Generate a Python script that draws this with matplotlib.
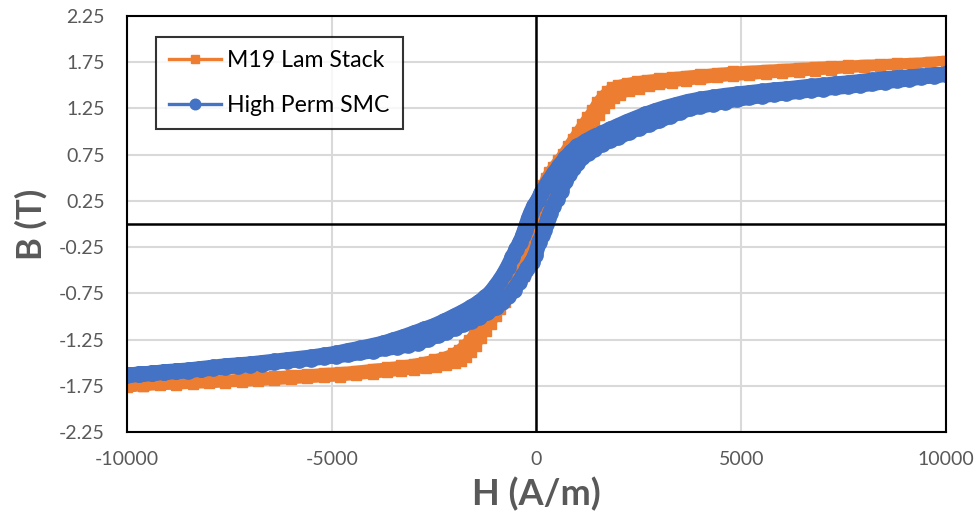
import matplotlib
matplotlib.use("Agg")
import matplotlib.pyplot as plt
from matplotlib.lines import Line2D

# ---------------- data ----------------
# M19 Lam Stack : descending branch (H from +10000 to -10000)
m19_desc_h = [10000, 9600, 9200, 8800, 8400, 8000, 7600, 7200, 6800, 6400,
              6000, 5600, 5200, 4800, 4400, 4000, 3650, 3300, 3000, 2700,
              2450, 2200, 2000, 1850, 1720, 1600, 1480, 1360, 1240, 1120,
              1000, 880, 760, 640, 520, 400, 300, 220, 150, 80,
              20, -40, -110,
              -170, -230, -300, -370, -450, -560, -680, -800, -920, -1040,
              -1160, -1280, -1400, -1520, -1640, -1770, -1900, -2050, -2250, -2500,
              -2750, -3000, -3300, -3650, -4000, -4400, -4800, -5200, -5600, -6000,
              -6400, -6800, -7200, -7600, -8000, -8400, -8800, -9200, -9600, -10000]
m19_desc_b = [1.765, 1.755, 1.745, 1.74, 1.73, 1.725, 1.715, 1.71, 1.70, 1.69,
              1.68, 1.67, 1.66, 1.65, 1.635, 1.62, 1.605, 1.59, 1.575, 1.56,
              1.545, 1.525, 1.505, 1.48, 1.435, 1.385, 1.32, 1.23, 1.155, 1.08,
              1.00, 0.92, 0.84, 0.76, 0.69, 0.62, 0.56, 0.50, 0.42, 0.31,
              0.20, 0.10, 0.0,
              -0.10, -0.20, -0.32, -0.43, -0.51, -0.59, -0.66, -0.73, -0.80, -0.87,
              -0.95, -1.03, -1.11, -1.18, -1.25, -1.31, -1.36, -1.40, -1.435, -1.465,
              -1.49, -1.51, -1.53, -1.55, -1.565, -1.585, -1.60, -1.61, -1.625, -1.635,
              -1.645, -1.66, -1.67, -1.685, -1.695, -1.71, -1.72, -1.735, -1.75, -1.765]
# M19 Lam Stack : ascending branch (H from -10000 to +10000)
m19_asc_h = [-9600, -9200, -8800, -8400, -8000, -7600, -7200, -6800, -6400, -6000,
             -5600, -5200, -4800, -4400, -4000, -3650, -3300, -3000, -2700, -2450,
             -2200, -2000, -1850, -1720, -1600, -1480, -1360, -1240, -1120, -1000,
             -880, -760, -640, -520, -400, -300, -220, -150, -80, -20,
             40, 110,
             170, 230, 300, 370, 450, 560, 680, 800, 920, 1040,
             1160, 1280, 1400, 1520, 1640, 1770, 1900, 2050, 2250, 2500,
             2750, 3000, 3300, 3650, 4000, 4400, 4800, 5200, 5600, 6000,
             6400, 6800, 7200, 7600, 8000, 8400, 8800, 9200, 9600, 10000]
m19_asc_b = [-1.755, -1.745, -1.74, -1.73, -1.725, -1.715, -1.71, -1.70, -1.69, -1.68,
             -1.67, -1.66, -1.65, -1.635, -1.62, -1.605, -1.59, -1.575, -1.56, -1.545,
             -1.525, -1.505, -1.48, -1.435, -1.385, -1.32, -1.23, -1.155, -1.08, -1.00,
             -0.92, -0.84, -0.76, -0.69, -0.62, -0.56, -0.50, -0.42, -0.31, -0.20,
             -0.10, 0.0,
             0.10, 0.20, 0.32, 0.43, 0.51, 0.59, 0.66, 0.73, 0.80, 0.87,
             0.95, 1.03, 1.11, 1.18, 1.25, 1.31, 1.36, 1.40, 1.435, 1.465,
             1.49, 1.51, 1.53, 1.55, 1.565, 1.585, 1.60, 1.61, 1.625, 1.635,
             1.645, 1.66, 1.67, 1.685, 1.695, 1.71, 1.72, 1.735, 1.75, 1.765]

# High Perm SMC : descending branch
smc_desc_h = [10000, 9700, 9400, 9100, 8800, 8500, 8200, 7900, 7600, 7300,
              7000, 6700, 6400, 6100, 5800, 5500, 5200, 4900, 4600, 4300,
              4000, 3700, 3400, 3150, 2900, 2650, 2400, 2200, 2000, 1800,
              1600, 1400, 1200, 1000, 850, 700, 560, 430, 320, 220,
              120, 30, -70, -140, -195, -240,
              -285, -330, -395, -490, -590, -700, -800, -900, -1000, -1120,
              -1250, -1400, -1600, -1800, -2000, -2250, -2500, -2750, -3000, -3250,
              -3500, -3750, -4000, -4300, -4600, -4900, -5200, -5500, -5800, -6100,
              -6400, -6700, -7000, -7300, -7600, -7900, -8200, -8500, -8800, -9100,
              -9400, -9700, -10000]
smc_desc_b = [1.62, 1.61, 1.60, 1.59, 1.58, 1.57, 1.555, 1.54, 1.525, 1.515,
              1.50, 1.49, 1.475, 1.46, 1.45, 1.435, 1.42, 1.405, 1.39, 1.37,
              1.35, 1.325, 1.29, 1.26, 1.225, 1.185, 1.14, 1.105, 1.065, 1.025,
              0.985, 0.945, 0.895, 0.84, 0.78, 0.71, 0.63, 0.55, 0.48, 0.41,
              0.34, 0.26, 0.19, 0.12, 0.06, 0.0,
              -0.06, -0.12, -0.19, -0.27, -0.36, -0.46, -0.54, -0.61, -0.67, -0.74,
              -0.79, -0.845, -0.90, -0.95, -0.995, -1.05, -1.10, -1.14, -1.18, -1.22,
              -1.255, -1.29, -1.315, -1.345, -1.37, -1.40, -1.42, -1.44, -1.455, -1.47,
              -1.485, -1.50, -1.515, -1.525, -1.535, -1.55, -1.565, -1.58, -1.59, -1.60,
              -1.615, -1.625, -1.635]
# High Perm SMC : ascending branch
smc_asc_h = [-9700, -9400, -9100, -8800, -8500, -8200, -7900, -7600, -7300, -7000,
             -6700, -6400, -6100, -5800, -5500, -5200, -4900, -4600, -4300, -4000,
             -3700, -3400, -3150, -2900, -2650, -2400, -2200, -2000, -1800, -1600,
             -1400, -1200, -1000, -850, -700, -560, -430, -320, -220, -120,
             -30, 70, 140, 195, 240,
             285, 330, 395, 490, 590, 700, 800, 900, 1000, 1120,
             1250, 1400, 1600, 1800, 2000, 2250, 2500, 2750, 3000, 3250,
             3500, 3750, 4000, 4300, 4600, 4900, 5200, 5500, 5800, 6100,
             6400, 6700, 7000, 7300, 7600, 7900, 8200, 8500, 8800, 9100,
             9400, 9700, 10000]
smc_asc_b = [-1.625, -1.615, -1.605, -1.595, -1.585, -1.57, -1.56, -1.545, -1.535, -1.52,
             -1.51, -1.495, -1.48, -1.47, -1.455, -1.44, -1.425, -1.41, -1.39, -1.37,
             -1.345, -1.33, -1.31, -1.285, -1.245, -1.20, -1.165, -1.125, -1.085, -1.045,
             -1.005, -0.955, -0.90, -0.84, -0.78, -0.71, -0.63, -0.55, -0.48, -0.41,
             -0.34, -0.19, -0.12, -0.06, 0.0,
             0.06, 0.12, 0.19, 0.27, 0.36, 0.46, 0.54, 0.61, 0.66, 0.72,
             0.77, 0.815, 0.865, 0.905, 0.94, 0.99, 1.04, 1.08, 1.12, 1.165,
             1.21, 1.25, 1.275, 1.30, 1.325, 1.35, 1.37, 1.39, 1.405, 1.42,
             1.435, 1.45, 1.465, 1.48, 1.49, 1.505, 1.52, 1.54, 1.555, 1.57,
             1.59, 1.605, 1.62]

series_names = ["M19 Lam Stack", "High Perm SMC"]
x_ticks = [-10000, -5000, 0, 5000, 10000]
y_ticks = [-2.25, -1.75, -1.25, -0.75, -0.25, 0.25, 0.75, 1.25, 1.75, 2.25]
x_title = "H (A/m)"
y_title = "B (T)"

# ---------------- style ----------------
ORANGE = "#ED7D31"
BLUE = "#4472C4"
TEXT = "#595959"
GRID = "#D9D9D9"
plt.rcParams["font.family"] = ["Lato", "DejaVu Sans"]

fig = plt.figure(figsize=(9.79, 5.22), dpi=100)
ax = fig.add_axes([127 / 979, 1 - 432 / 522, (946 - 127) / 979, (432 - 16) / 522])

m19_h = m19_desc_h + m19_asc_h
m19_b = m19_desc_b + m19_asc_b
smc_h = smc_desc_h + smc_asc_h
smc_b = smc_desc_b + smc_asc_b

ax.plot(m19_h, m19_b, color=ORANGE, lw=7.0, marker="s", ms=7.6,
        mec=ORANGE, mfc=ORANGE, zorder=3, solid_joinstyle="round",
        solid_capstyle="butt")
ax.plot(smc_h, smc_b, color=BLUE, lw=11.0, marker="o", ms=11.0,
        mec=BLUE, mfc=BLUE, zorder=4, solid_joinstyle="round",
        solid_capstyle="butt")

ax.set_xlim(-10000, 10000)
ax.set_ylim(-2.25, 2.25)
ax.set_xticks(x_ticks)
ax.set_yticks(y_ticks)
ax.set_xticklabels([f"{v}" for v in x_ticks])
ax.set_yticklabels([f"{v:.2f}" for v in y_ticks])
ax.tick_params(axis="both", length=0, labelsize=14, labelcolor=TEXT)
ax.tick_params(axis="x", pad=14)
ax.tick_params(axis="y", pad=16)

ax.grid(True, color=GRID, lw=1.5, zorder=0)
ax.set_axisbelow(True)
for s in ax.spines.values():
    s.set_color("black")
    s.set_linewidth(1.5)
    s.set_zorder(7)

ax.axhline(0, color="black", lw=1.8, zorder=6)
ax.axvline(0, color="black", lw=1.8, zorder=6)

ax.set_xlabel(x_title, fontsize=26, fontweight="bold", color=TEXT, labelpad=6)
ax.set_ylabel(y_title, fontsize=25, fontweight="bold", color=TEXT, labelpad=8)

handles = [Line2D([], [], color=ORANGE, lw=2.4, marker="s", ms=5.6),
           Line2D([], [], color=BLUE, lw=2.4, marker="o", ms=7.6)]
leg = ax.legend(handles, series_names, loc="upper left",
                bbox_to_anchor=((156 - 127) / 819, (432 - 37) / 416),
                borderaxespad=0, frameon=True, fancybox=False,
                edgecolor="black", fontsize=16.6, handlelength=2.25,
                handletextpad=0.3, labelspacing=1.05, borderpad=0.55)
leg.get_frame().set_linewidth(1.5)
for t in leg.get_texts():
    t.set_color("black")
leg.set_zorder(10)

fig.savefig("out.png", dpi=100)
